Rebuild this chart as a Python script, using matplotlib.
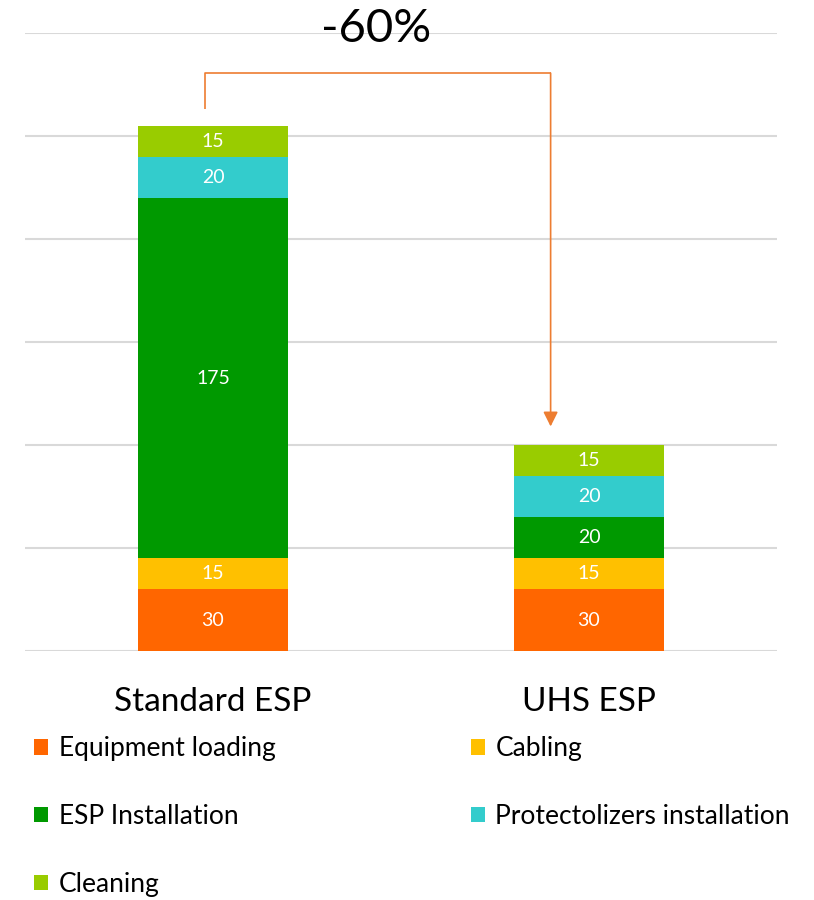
import matplotlib.pyplot as plt
import numpy as np

plt.rcParams['font.family'] = ['Lato', 'DejaVu Sans']

categories = ['Standard ESP', 'UHS ESP']
stages = ['Equipment loading', 'Cabling', 'ESP Installation',
          'Protectolizers installation', 'Cleaning']
values = {
    'Equipment loading': [30, 30],
    'Cabling': [15, 15],
    'ESP Installation': [175, 20],
    'Protectolizers installation': [20, 20],
    'Cleaning': [15, 15],
}
colors = {
    'Equipment loading': '#FF6600',
    'Cabling': '#FFC000',
    'ESP Installation': '#009900',
    'Protectolizers installation': '#33CCCC',
    'Cleaning': '#99CC00',
}
change_label = '-60%'

fig = plt.figure(figsize=(8.14, 9), dpi=100)
ax = fig.add_axes([0.0307, 0.2767, 0.9238, 0.6866])

x = np.arange(len(categories))
bottom = np.zeros(len(categories))
handles = {}
for s in stages:
    v = np.array(values[s])
    bars = ax.bar(x, v, width=0.4, bottom=bottom, color=colors[s], label=s,
                  zorder=3)
    handles[s] = bars
    for xi, b, vi in zip(x, bottom, v):
        ax.text(xi, b + vi / 2, str(vi), ha='center', va='center',
                color='white', fontsize=14, zorder=4)
    bottom += v

ax.set_xlim(-0.5, 1.5)
ax.set_ylim(0, 300)
ax.set_yticks(np.arange(0, 301, 50))
ax.yaxis.grid(True, color='#D9D9D9', linewidth=1.5, zorder=0)
ax.tick_params(axis='y', length=0, labelleft=False)
ax.tick_params(axis='x', length=0, labelsize=24, pad=26)
ax.set_xticks(x)
ax.set_xticklabels(categories)
for sp in ax.spines.values():
    sp.set_visible(False)

# bracket arrow from the first total down to the second
totals = bottom
top_y = 280.5
x0, x1 = -0.0225, 0.898
ax.plot([x0, x0, x1], [totals[0] + 8, top_y, top_y], color='#ED7D31',
        linewidth=1.2, zorder=5, solid_capstyle='butt')
ax.annotate('', xy=(x1, totals[1] + 9), xytext=(x1, top_y),
            arrowprops=dict(arrowstyle='-|>', color='#ED7D31', lw=1.2,
                            mutation_scale=22, shrinkA=0, shrinkB=0),
            zorder=5)
ax.text(0.435, 302, change_label, ha='center', va='center', fontsize=34,
        color='black', zorder=6)

order = ['Equipment loading', 'ESP Installation', 'Cleaning',
         'Cabling', 'Protectolizers installation']
fig.legend([handles[s] for s in order], order, ncol=2, loc='upper left',
           bbox_to_anchor=(0.042, 0.182), frameon=False, fontsize=19,
           handlelength=0.53, handleheight=0.53, handletextpad=0.4,
           labelspacing=1.62, columnspacing=7.4, borderaxespad=0,
           borderpad=0)

fig.savefig('out.png', dpi=100)
